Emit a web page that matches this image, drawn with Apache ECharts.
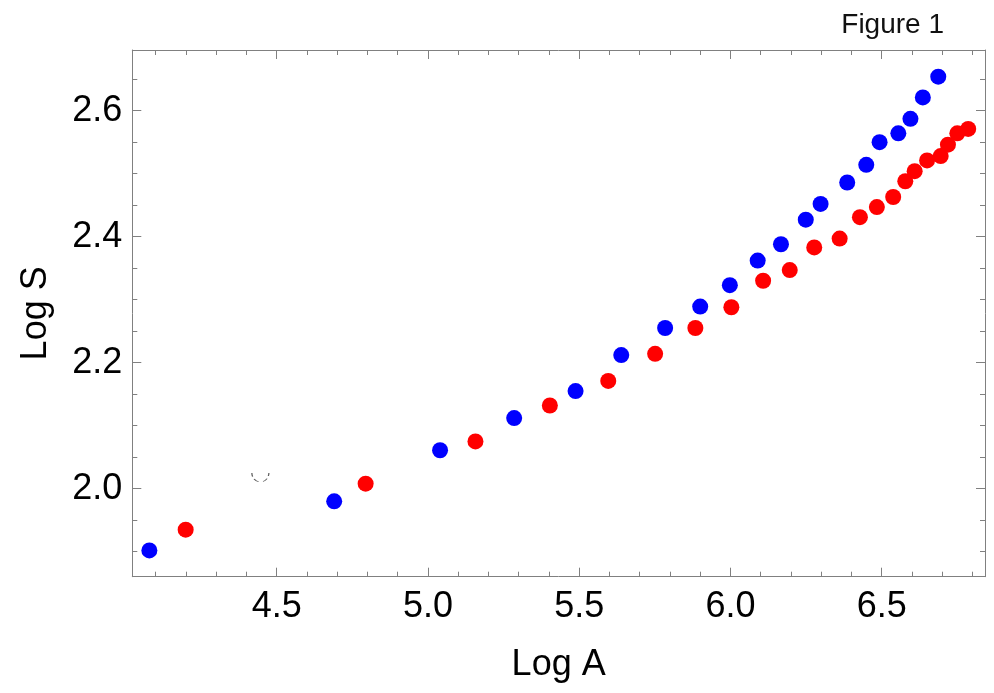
<!DOCTYPE html>
<html><head><meta charset="utf-8">
<script src="https://cdn.jsdelivr.net/npm/echarts@6/dist/echarts.min.js"></script>
<style>html,body{margin:0;padding:0;background:#fff}#c{width:994px;height:693px}</style>
</head><body><div id="c"></div>
<script>
const blueLogA = [4.079, 4.690, 5.040, 5.285, 5.488, 5.639, 5.784, 5.900, 5.998, 6.090, 6.167, 6.249, 6.298, 6.386, 6.449, 6.493, 6.555, 6.595, 6.636, 6.687];
const blueLogS = [1.902, 1.980, 2.061, 2.112, 2.155, 2.212, 2.255, 2.289, 2.323, 2.362, 2.388, 2.427, 2.452, 2.486, 2.514, 2.550, 2.564, 2.587, 2.621, 2.654];
const redLogA = [4.199, 4.794, 5.157, 5.403, 5.596, 5.751, 5.884, 6.003, 6.108, 6.196, 6.277, 6.361, 6.428, 6.484, 6.538, 6.578, 6.609, 6.650, 6.695, 6.719, 6.750, 6.786];
const redLogS = [1.935, 2.008, 2.075, 2.132, 2.171, 2.214, 2.255, 2.288, 2.330, 2.347, 2.383, 2.397, 2.431, 2.447, 2.463, 2.488, 2.504, 2.521, 2.528, 2.546, 2.564, 2.571];
const ghostLogA = [4.446];
const ghostLogS = [2.025];
const xMajorTicks = [4.5, 5.0, 5.5, 6.0, 6.5];
const xMinorTicks = [4.1, 4.2, 4.3, 4.4, 4.6, 4.7, 4.8, 4.9, 5.1, 5.2, 5.3, 5.4, 5.6, 5.7, 5.8, 5.9, 6.1, 6.2, 6.3, 6.4, 6.6, 6.7, 6.8];
const yMajorTicks = [2.0, 2.2, 2.4, 2.6];
const yMinorTicks = [1.9, 1.95, 2.05, 2.1, 2.15, 2.25, 2.3, 2.35, 2.45, 2.5, 2.55, 2.65];
const xRange = [4.0226, 6.8415];
const yRange = [1.8603, 2.6963];

const zip = (a, b) => a.map((v, i) => [v, b[i]]);
const FONT = 'Liberation Sans';
const AX = '#808080';
const fmt = v => Number(v).toFixed(1);

function xAx(pos, ticks, len, labels, line, extra) {
  return Object.assign({
    type: 'value', position: pos, min: xRange[0], max: xRange[1],
    axisLine: { show: line, onZero: false, lineStyle: { color: AX, width: 1 } },
    axisTick: { show: true, inside: true, length: len, customValues: ticks, lineStyle: { color: AX, width: 1 } },
    axisLabel: labels ? { show: true, customValues: ticks, formatter: fmt, fontSize: 36, fontFamily: FONT, color: '#000', margin: 12 } : { show: false },
    splitLine: { show: false }
  }, extra || {});
}
function yAx(pos, ticks, len, labels, line, extra) {
  return Object.assign({
    type: 'value', position: pos, min: yRange[0], max: yRange[1],
    axisLine: { show: line, onZero: false, lineStyle: { color: AX, width: 1 } },
    axisTick: { show: true, inside: true, length: len, customValues: ticks, lineStyle: { color: AX, width: 1 } },
    axisLabel: labels ? { show: true, customValues: ticks, formatter: fmt, fontSize: 36, fontFamily: FONT, color: '#000', margin: 10 } : { show: false },
    splitLine: { show: false }
  }, extra || {});
}

const chart = echarts.init(document.getElementById('c'), null, { renderer: 'canvas' });
chart.setOption({
  animation: false,
  backgroundColor: '#fff',
  title: { text: 'Figure 1', right: 45, top: 6, textStyle: { fontSize: 28, fontWeight: 'normal', fontFamily: FONT, color: '#111' } },
  grid: { left: 132.3, right: 9, top: 50, bottom: 116.3, containLabel: false },
  xAxis: [
    xAx('bottom', xMajorTicks, 9, true, true, { name: 'Log A', nameLocation: 'middle', nameGap: 70, nameTextStyle: { fontSize: 36, fontFamily: FONT, color: '#000' } }),
    xAx('bottom', xMinorTicks, 5, false, false),
    xAx('top', xMajorTicks, 9, false, true),
    xAx('top', xMinorTicks, 5, false, false)
  ],
  yAxis: [
    yAx('left', yMajorTicks, 9, true, true, { name: 'Log S', nameLocation: 'middle', nameGap: 78, nameRotate: 90, nameTextStyle: { fontSize: 36, fontFamily: FONT, color: '#000' } }),
    yAx('left', yMinorTicks, 5, false, false),
    yAx('right', yMajorTicks, 9, false, true),
    yAx('right', yMinorTicks, 5, false, false)
  ],
  series: [
    { type: 'scatter', name: 'blue', xAxisIndex: 0, yAxisIndex: 0, data: zip(blueLogA, blueLogS), symbol: 'circle', symbolSize: 16, itemStyle: { color: '#0000ff', opacity: 1 } },
    { type: 'scatter', name: 'red', xAxisIndex: 0, yAxisIndex: 0, data: zip(redLogA, redLogS), symbol: 'circle', symbolSize: 16, itemStyle: { color: '#ff0000', opacity: 1 } },
    { type: 'scatter', name: 'ghost', xAxisIndex: 0, yAxisIndex: 0, data: zip(ghostLogA, ghostLogS), symbol: 'path://M0,0 A10,10 0 0 0 20,0', symbolSize: [17, 9], symbolOffset: [0, 4.5], itemStyle: { color: 'rgba(0,0,0,0)', borderColor: '#333', borderWidth: 0.9, borderType: [5, 3.5] } }
  ]
});
</script>
</body></html>
